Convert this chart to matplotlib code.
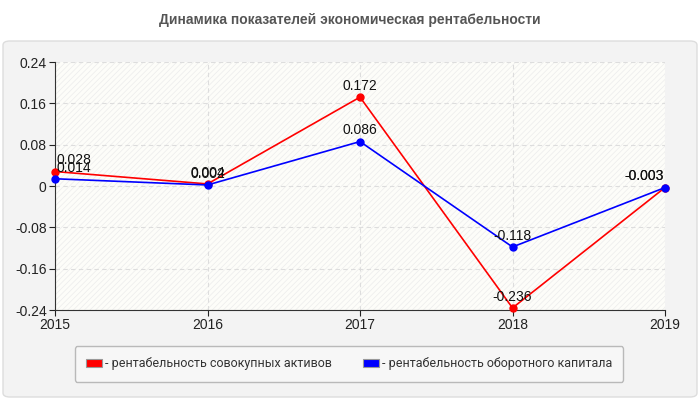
import matplotlib
matplotlib.use("Agg")
import matplotlib.pyplot as plt
from matplotlib.patches import FancyBboxPatch, Rectangle, Patch

plt.rcParams['font.family'] = ['Liberation Sans', 'DejaVu Sans']
plt.rcParams['hatch.linewidth'] = 0.5

years = [2015, 2016, 2017, 2018, 2019]
assets = [0.028, 0.004, 0.172, -0.236, -0.003]
working = [0.014, 0.002, 0.086, -0.118, -0.003]
yticks = [-0.24, -0.16, -0.08, 0, 0.08, 0.16, 0.24]
ytick_labels = ["-0.24", "-0.16", "-0.08", "0", "0.08", "0.16", "0.24"]
title = "Динамика показателей экономическая рентабельности"
names = ["- рентабельность совокупных активов", "- рентабельность оборотного капитала"]
colors = ["#ff0000", "#0000ff"]

fig = plt.figure(figsize=(7, 4), dpi=100)
fig.patch.set_facecolor("white")

panel = FancyBboxPatch((3/700, 3/400), 694/700, 356/400,
                       boxstyle="round,pad=0,rounding_size=0.01",
                       transform=fig.transFigure, facecolor="#f3f3f3",
                       edgecolor="#dddddd", linewidth=1, zorder=-10)
fig.patches.append(panel)

fig.text(0.5, (400-20)/400, title, ha="center", va="center",
         fontsize=10, fontweight="bold", color="#555555")

ax = fig.add_axes([55/700, 90/400, 610/700, 248/400])
ax.set_zorder(1)
ax.set_facecolor("#fdfdf9")
ax.add_patch(Rectangle((0, 0), 1, 1, transform=ax.transAxes, facecolor="none",
                       edgecolor="#ececec", hatch="//////", linewidth=0, zorder=0))

for vals, c in zip([assets, working], colors):
    ax.plot(years, vals, color=c, linewidth=1.2, marker="o", markersize=5,
            clip_on=False, zorder=3)

for vals in [assets, working]:
    for i, (x, y) in enumerate(zip(years, vals)):
        ha = "center"
        dx = 0
        if i == 0:
            ha = "left"
            dx = 1
        elif i == len(years) - 1:
            ha = "right"
            dx = -1
        ax.annotate(f"{y:g}", (x, y), xytext=(dx, 3), textcoords="offset points",
                    ha=ha, va="bottom", fontsize=10, color="#111111", zorder=4)

ax.set_xlim(2015, 2019)
ax.set_ylim(-0.24, 0.24)
ax.set_xticks(years)
ax.set_xticklabels([str(y) for y in years])
ax.set_yticks(yticks)
ax.set_yticklabels(ytick_labels)
ax.tick_params(labelsize=10, colors="#222222", length=4, direction="out", pad=2)
ax.grid(True, linestyle=(0, (4, 3)), color="#dddddd", linewidth=0.8)
ax.set_axisbelow(True)
for s in ["top", "right"]:
    ax.spines[s].set_visible(False)
ax.spines["left"].set_color("#333333")
ax.spines["bottom"].set_color("#333333")

handles = [Patch(facecolor=c, edgecolor="#999999", linewidth=0.8) for c in colors]
leg = fig.legend(handles, names, loc="center", bbox_to_anchor=(349/700, 36/400),
                 ncol=2, frameon=True, handlelength=1.3,
                 handleheight=0.6, handletextpad=0.2, columnspacing=2.5,
                 borderpad=0.9, fancybox=True,
                 prop={'family': ['Roboto', 'DejaVu Sans'], 'size': 9})
leg.get_frame().set_edgecolor("#aaaaaa")
leg.get_frame().set_facecolor("#f9f9f9")
for t in leg.get_texts():
    t.set_color("#333333")

fig.savefig("out.png", dpi=100)
